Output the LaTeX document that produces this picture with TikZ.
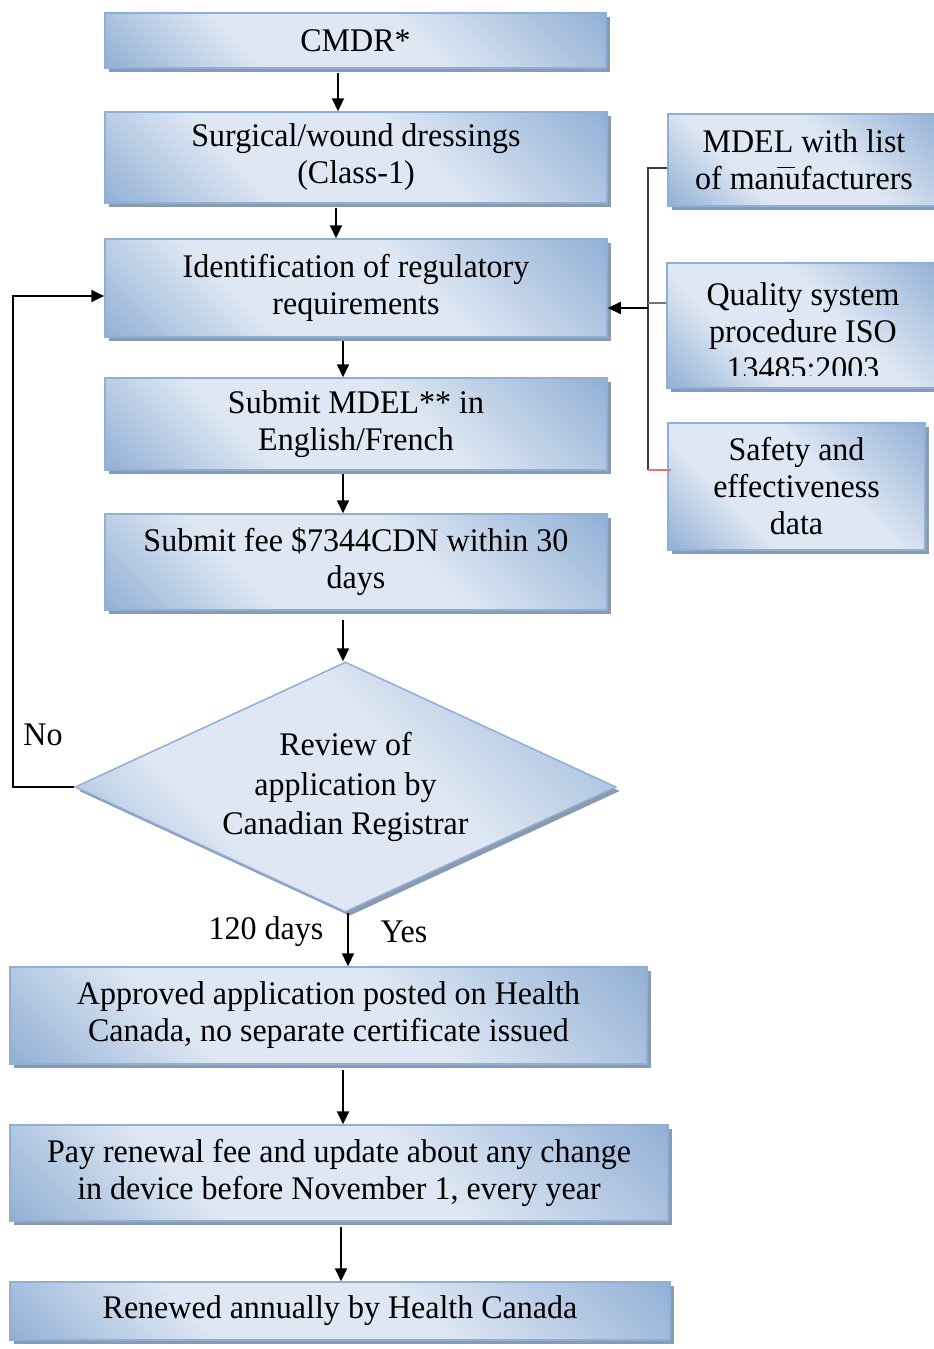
\documentclass[tikz,border=0pt]{standalone}
\usepackage{fontspec}
\setmainfont{Liberation Serif}[FakeStretch=0.97]
\usetikzlibrary{arrows.meta,shapes.geometric,shadows,calc}
\definecolor{boxdark}{RGB}{147,177,214}
\definecolor{boxlight}{RGB}{222,231,243}
\definecolor{boxedge}{RGB}{141,175,216}
\definecolor{boxshadow}{RGB}{140,154,170}
\definecolor{tickred}{RGB}{222,120,120}
\definecolor{bracketgrey}{RGB}{60,60,60}
% diagonal sheen: light band from top-left to bottom-right corner
\pgfdeclareverticalshading{panelshade}{100bp}{color(0bp)=(boxdark); color(15bp)=(boxdark);
  color(35bp)=(boxlight); color(58bp)=(boxlight); color(85bp)=(boxdark); color(100bp)=(boxdark)}
\tikzset{
  panel/.style={rectangle, draw=boxedge, line width=1.5pt, inner sep=0pt,
    shade, shading=panelshade, shading angle=-45,
    drop shadow={shadow xshift=4pt, shadow yshift=-4pt, fill=boxshadow, opacity=1},
    align=center, font=\fontsize{33}{37}\selectfont},
  txt/.style={align=center, inner sep=0pt, font=\fontsize{33}{37}\selectfont},
  lbl/.style={inner sep=0pt, font=\fontsize{33}{37}\selectfont},
  arr/.style={-{Triangle[length=13pt,width=12pt]}, line width=2.2pt},
  bracket/.style={line width=1.1pt, draw=bracketgrey}
}
\begin{document}
\begin{tikzpicture}[x=1pt,y=-1pt]
\useasboundingbox (0,0) rectangle (934,1349);

% main column
\node[panel, minimum width=501pt, minimum height=55pt] (b1) at (355.5,40.5) {CMDR*};
\node[panel, minimum width=502pt, minimum height=91pt] (b2) at (356,157.5) {Surgical/wound dressings\\(Class-1)};
\node[panel, minimum width=502pt, minimum height=98pt] (b3) at (356,288) {Identification of regulatory\\requirements};
\node[panel, minimum width=502pt, minimum height=92pt] (b4) at (356,424) {Submit MDEL** in\\English/French};
\node[panel, minimum width=502pt, minimum height=96pt] (b5) at (356,562) {Submit fee \$7344CDN within 30\\days};
\node[panel, shape=diamond, aspect=2.16, minimum width=541pt, minimum height=250pt,
      font=\fontsize{33}{39.5}\selectfont] (dia) at (345.5,787) {Review of\\application by\\Canadian Registrar};
\node[panel, minimum width=637pt, minimum height=97pt] (b7) at (328.5,1015.5) {Approved application posted on Health\\Canada, no separate certificate issued};
\node[panel, minimum width=658pt, minimum height=96pt] (b8) at (339,1173) {Pay renewal fee and update about any change\\in device before November 1, every year};
\node[panel, minimum width=660pt, minimum height=58pt] (b9) at (340,1311) {Renewed annually by Health Canada};

% side column
\node[panel, minimum width=272pt, minimum height=92pt] (r1) at (804,160) {MDEL with list\\of manufacturers};
\node[panel, minimum width=273pt, minimum height=125pt] (r2) at (803.5,325.5) {};
\begin{scope}
  \clip (668,264) rectangle (940,375);
  \node[txt] (r2t) at (803,331) {Quality system\\procedure ISO\\13485:2003};
\end{scope}
\node[panel, minimum width=257pt, minimum height=127pt] (r3) at (796.5,486.5) {Safety and\\effectiveness\\data};
\draw[line width=1pt] (777,167) -- (795,167);

% bracket joining the side column
\coordinate (bt) at (648,168);
\coordinate (bm) at (648,303);
\coordinate (ba) at (648,308);
\coordinate (bb) at (648,470);
\draw[bracket] (r1.west |- bt) -- (bt) -- (bb);
\draw[line width=1.1pt, draw=black!55] (bm) -- (r2.west |- bm);
\draw[line width=1.1pt, draw=tickred] (bb) -- ([xshift=4pt]r3.west |- bb);
\draw[arr] (ba) -- (b3.east |- ba);

% flow arrows
\draw[arr] ([xshift=-17.5pt,yshift=-4pt]b1.south) -- ([xshift=-17.5pt]b1.south |- b2.north);
\draw[arr] ([xshift=-20pt,yshift=-4pt]b2.south) -- ([xshift=-20pt]b2.south |- b3.north);
\draw[arr] ([xshift=-13pt,yshift=-3pt]b3.south) -- ([xshift=-13pt]b3.south |- b4.north);
\draw[arr] ([xshift=-13pt,yshift=-3pt]b4.south) -- ([xshift=-13pt]b4.south |- b5.north);
\draw[arr] ([xshift=-13pt,yshift=-9pt]b5.south) -- ([xshift=-13pt]b5.south |- dia.north);
\draw[arr] ([xshift=2.5pt]dia.south) -- ([xshift=2.5pt]dia.south |- b7.north);
\draw[arr] ([xshift=14.5pt,yshift=-5pt]b7.south) -- ([xshift=14.5pt]b7.south |- b8.north);
\draw[arr] ([xshift=2pt,yshift=-5pt]b8.south) -- ([xshift=2pt]b8.south |- b9.north);

% rejection loop
\coordinate (loop) at (13,296);
\draw[arr, line width=2pt] (dia.west) -| (loop) -- (loop -| b3.west);

% labels
\node[lbl] (lno) at (43,735) {No};
\node[lbl] (ldays) at (266,932) {120 days};
\node[lbl] (lyes) at (404,932) {Yes};
\end{tikzpicture}
\end{document}
